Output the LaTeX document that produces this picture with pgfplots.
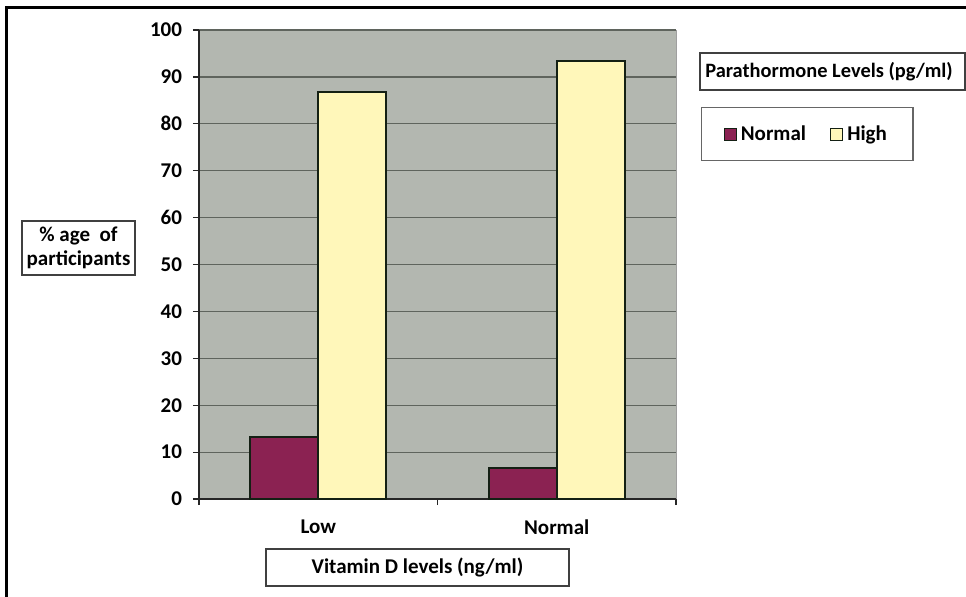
\documentclass[border=0pt]{standalone}
\usepackage{pgfplots}
\pgfplotsset{compat=1.18}
\usepackage{fontspec}
\setmainfont{Carlito}

\definecolor{plotbg}{HTML}{B3B7B0}
\definecolor{gridcol}{HTML}{5F645D}
\definecolor{maroon}{HTML}{8B2252}
\definecolor{cream}{HTML}{FFF7BA}
\definecolor{barline}{HTML}{142014}

\begin{document}
\begin{tikzpicture}[font=\bfseries\fontsize{10.5}{12}\selectfont]
\useasboundingbox (0,0) rectangle (483pt,298pt);
% outer frame (only top and left visible)
\draw[line width=1.5pt] (3.25pt,-1pt) -- (3.25pt,294.25pt) -- (484pt,294.25pt);

\begin{axis}[
    at={(99.5pt,48.5pt)}, anchor=south west,
    scale only axis, width=238.5pt, height=234.5pt,
    ybar=0pt, bar width=34pt,
    xmin=0.5, xmax=2.5, ymin=0, ymax=100,
    xtick={0.5,1.5,2.5}, xticklabels={Low,Normal},
    x tick label as interval,
    ytick={0,10,...,100},
    axis x line*=bottom, axis y line*=left,
    axis line style={draw=black!85, line width=0.9pt, -},
    axis background/.style={fill=plotbg, draw=gray!75},
    ymajorgrids, xmajorgrids=false,
    grid style={draw=gridcol, line width=0.6pt},
    tick align=outside, major tick length=3pt,
    tick style={draw=black!85, line width=0.6pt},
    /pgf/number format/assume math mode=true,
    tick label style={font=\bfseries\fontsize{10.5}{12}\selectfont},
    yticklabel style={xshift=-2pt},
    xticklabel style={yshift=-4pt},
    ylabel={\% age~~of\\participants},
    ylabel style={rotate=-90, at={(axis description cs:-0.2526,0.535)}, anchor=center,
        draw=black!75, line width=0.7pt, align=center, minimum width=56.5pt,
        minimum height=27pt, inner sep=1pt},
    xlabel={Vitamin D levels (ng/ml)},
    xlabel style={at={(axis description cs:0.458,-0.146)}, anchor=center,
        draw=black!75, line width=0.7pt, minimum width=151.5pt, minimum height=18.5pt},
    legend columns=2,
    legend image code/.code={\draw[#1, line width=0.6pt] (0pt,-3pt) rectangle (6pt,3pt);},
    legend style={at={(axis description cs:1.0524,0.8358)}, anchor=north west,
        draw=black!60, line width=0.7pt, inner xsep=11pt, inner ysep=6.8pt,
        font=\bfseries\fontsize{10.5}{12}\selectfont,
        /tikz/every even column/.append style={column sep=10pt}},
]
\addplot[fill=maroon, draw=barline, line width=1pt] coordinates {(1,13.3) (2,6.7)};
\addlegendentry{Normal}
\addplot[fill=cream, draw=barline, line width=1pt] coordinates {(1,86.7) (2,93.3)};
\addlegendentry{High}
\end{axis}

% legend title box
\draw[black!75, line width=0.7pt] (350pt,253pt) rectangle (482.4pt,271.5pt);
\node[anchor=west, inner sep=0pt, font=\bfseries\fontsize{10.2}{12}\selectfont]
    at (352.5pt,262.25pt) {Parathormone Levels (pg/ml)};
\end{tikzpicture}
\end{document}
